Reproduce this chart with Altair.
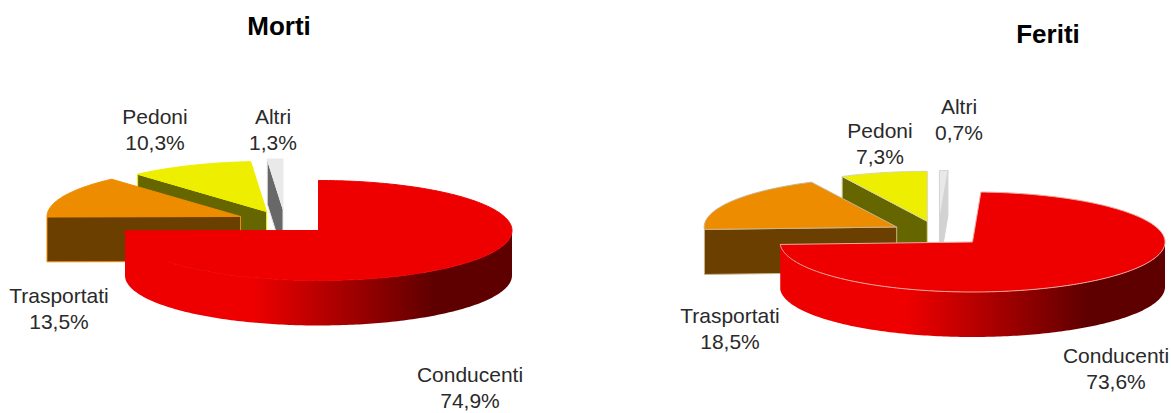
import math
import altair as alt

# Road-casualty shares by role of the person involved
categories = ["Conducenti", "Trasportati", "Pedoni", "Altri"]
morti_values = [74.9, 13.5, 10.3, 1.3]
feriti_values = [73.6, 18.5, 7.3, 0.7]
panel_titles = ["Morti", "Feriti"]

WEDGE_COLOURS = {
    "Trasportati": ("#EE8C00", "#6B3F00"),
    "Pedoni": ("#EEEE00", "#666600"),
    "Altri": ("#E9E9E9", "#686868"),
}
RED = "#EE0000"
DARK_RED = "#5E0000"
FONT = "Liberation Sans"


def pt(pie, angle, dx=0.0, dy=0.0, drop=0.0):
    """Point on the tilted rim; angle in degrees clockwise from twelve o'clock."""
    a = math.radians(angle)
    return [
        pie["cx"] + dx + pie["rx"] * math.sin(a),
        pie["cy"] + dy - pie["ry"] * math.cos(a) + drop,
    ]


def arc(pie, a0, a1, **kw):
    n = max(2, int(abs(a1 - a0)) + 1)
    return [pt(pie, a0 + (a1 - a0) * i / n, **kw) for i in range(n + 1)]


def feature(ring, fill, stroke):
    return {
        "type": "Feature",
        "properties": {"fill": fill, "stroke": stroke},
        "geometry": {"type": "Polygon", "coordinates": [ring + [ring[0]]]},
    }


def build_pie(pie, values):
    """Return back wedges, the gradient rim and the top of the leading slice."""
    total = sum(values)
    spans = []
    angle = pie["start"]
    for value in values:
        sweep = value / total * 360
        spans.append((angle, angle + sweep))
        angle += sweep

    wedges = []
    for name, (a0, a1) in reversed(list(zip(categories[1:], spans[1:]))):
        top, side = WEDGE_COLOURS[name]
        dx, dy = pie["offset"][name]
        apex = [pie["cx"] + dx, pie["cy"] + dy]
        apex_low = [apex[0], apex[1] + pie["depth"]]
        stroke = pie["edge"].get(name, top)
        side_colour = pie.get("side", {}).get(name, side)
        if name == "Altri" and "side" in pie:
            p1 = pt(pie, a1, dx=dx, dy=dy)
            p1_low = pt(pie, a1, dx=dx, dy=dy, drop=pie["depth"])
            wedges.append(feature([p1, apex, apex_low, p1_low], side_colour, side_colour))
        else:
            p0 = pt(pie, a0, dx=dx, dy=dy)
            p0_low = pt(pie, a0, dx=dx, dy=dy, drop=pie["depth"])
            wedges.append(feature([p0, apex, apex_low, p0_low], side_colour, stroke))
        wedges.append(feature([apex] + arc(pie, a0, a1, dx=dx, dy=dy), top, stroke))

    a0, a1 = spans[0]
    upper = arc(pie, 90, a1)
    lower = arc(pie, 90, a1, drop=pie["depth"])
    rim = feature(upper + lower[::-1], RED, RED)
    apex = [pie["cx"], pie["cy"]]
    cover = feature([apex] + arc(pie, a0, a1), RED, pie["edge"].get("Conducenti", RED))
    return wedges, rim, cover


morti_pie = dict(
    cx=318.5, cy=230.5, rx=193.5, ry=50, depth=45, start=0,
    offset={"Trasportati": (-78, -14), "Pedoni": (-52, -19), "Altri": (-35.5, -21.5)},
    edge={},
)
feriti_pie = dict(
    cx=972.5, cy=242, rx=192.5, ry=50, depth=45, start=2.5,
    offset={"Trasportati": (-75.8, -15), "Pedoni": (-45.2, -20.7), "Altri": (-33, -21.5)},
    edge={"Trasportati": "#C9B48C", "Pedoni": "#D8D8A0", "Altri": "#D4D4D4", "Conducenti": "#EFA9A0"},
    side={"Altri": "#D2D2D2"},
)

wedges_m, rim_m, cover_m = build_pie(morti_pie, morti_values)
wedges_f, rim_f, cover_f = build_pie(feriti_pie, feriti_values)

projection = alt.Projection(type="identity", scale=1, translate=[0, 0])
fill_enc = alt.Fill("properties.fill:N", scale=None)
stroke_enc = alt.Stroke("properties.stroke:N", scale=None)


def flat_layer(features):
    return (
        alt.Chart(alt.Data(values=features))
        .mark_geoshape(strokeWidth=1)
        .encode(fill=fill_enc, stroke=stroke_enc)
        .project(**projection.to_dict())
    )


def rim_layer(rim):
    shade = alt.Gradient(
        gradient="linear", x1=0, x2=1, y1=0, y2=0,
        stops=[
            alt.GradientStop(offset=0.0, color=RED),
            alt.GradientStop(offset=0.33, color=RED),
            alt.GradientStop(offset=0.8, color=DARK_RED),
            alt.GradientStop(offset=1.0, color=DARK_RED),
        ],
    )
    return (
        alt.Chart(alt.Data(values=[rim]))
        .mark_geoshape(fill=shade, stroke=None)
        .project(**projection.to_dict())
    )


def share(value):
    return f"{value:.1f}".replace(".", ",") + "%"


label_rows = []
morti_spots = {"Conducenti": (470, 376), "Trasportati": (59, 297), "Pedoni": (155, 118), "Altri": (273, 118)}
feriti_spots = {"Conducenti": (1116, 357), "Trasportati": (730, 317), "Pedoni": (880, 132), "Altri": (959, 108)}
for spots, values in ((morti_spots, morti_values), (feriti_spots, feriti_values)):
    for name, value in zip(categories, values):
        x, y = spots[name]
        label_rows.append({"px": x, "py": y, "text": name})
        label_rows.append({"px": x, "py": y + 26, "text": share(value)})

title_rows = [
    {"px": 279, "py": 27, "text": panel_titles[0]},
    {"px": 1048, "py": 35, "text": panel_titles[1]},
]

labels = (
    alt.Chart(alt.Data(values=label_rows))
    .mark_text(font=FONT, fontSize=21, color="#2A2A2A", align="center", baseline="middle")
    .encode(
        x=alt.X("px:Q", scale=None, axis=None),
        y=alt.Y("py:Q", scale=None, axis=None),
        text="text:N",
    )
)
titles = (
    alt.Chart(alt.Data(values=title_rows))
    .mark_text(font=FONT, fontSize=26, fontWeight="bold", color="#000000", align="center", baseline="middle")
    .encode(
        x=alt.X("px:Q", scale=None, axis=None),
        y=alt.Y("py:Q", scale=None, axis=None),
        text="text:N",
    )
)

chart = (
    alt.layer(
        flat_layer(wedges_m + wedges_f),
        rim_layer(rim_m),
        rim_layer(rim_f),
        flat_layer([cover_m, cover_f]),
        labels,
        titles,
    )
    .properties(width=1171, height=413, padding=0, background="white", autosize="none")
    .configure_view(stroke=None)
)

chart.save("out.html", embed_options={"renderer": "svg", "actions": False})
